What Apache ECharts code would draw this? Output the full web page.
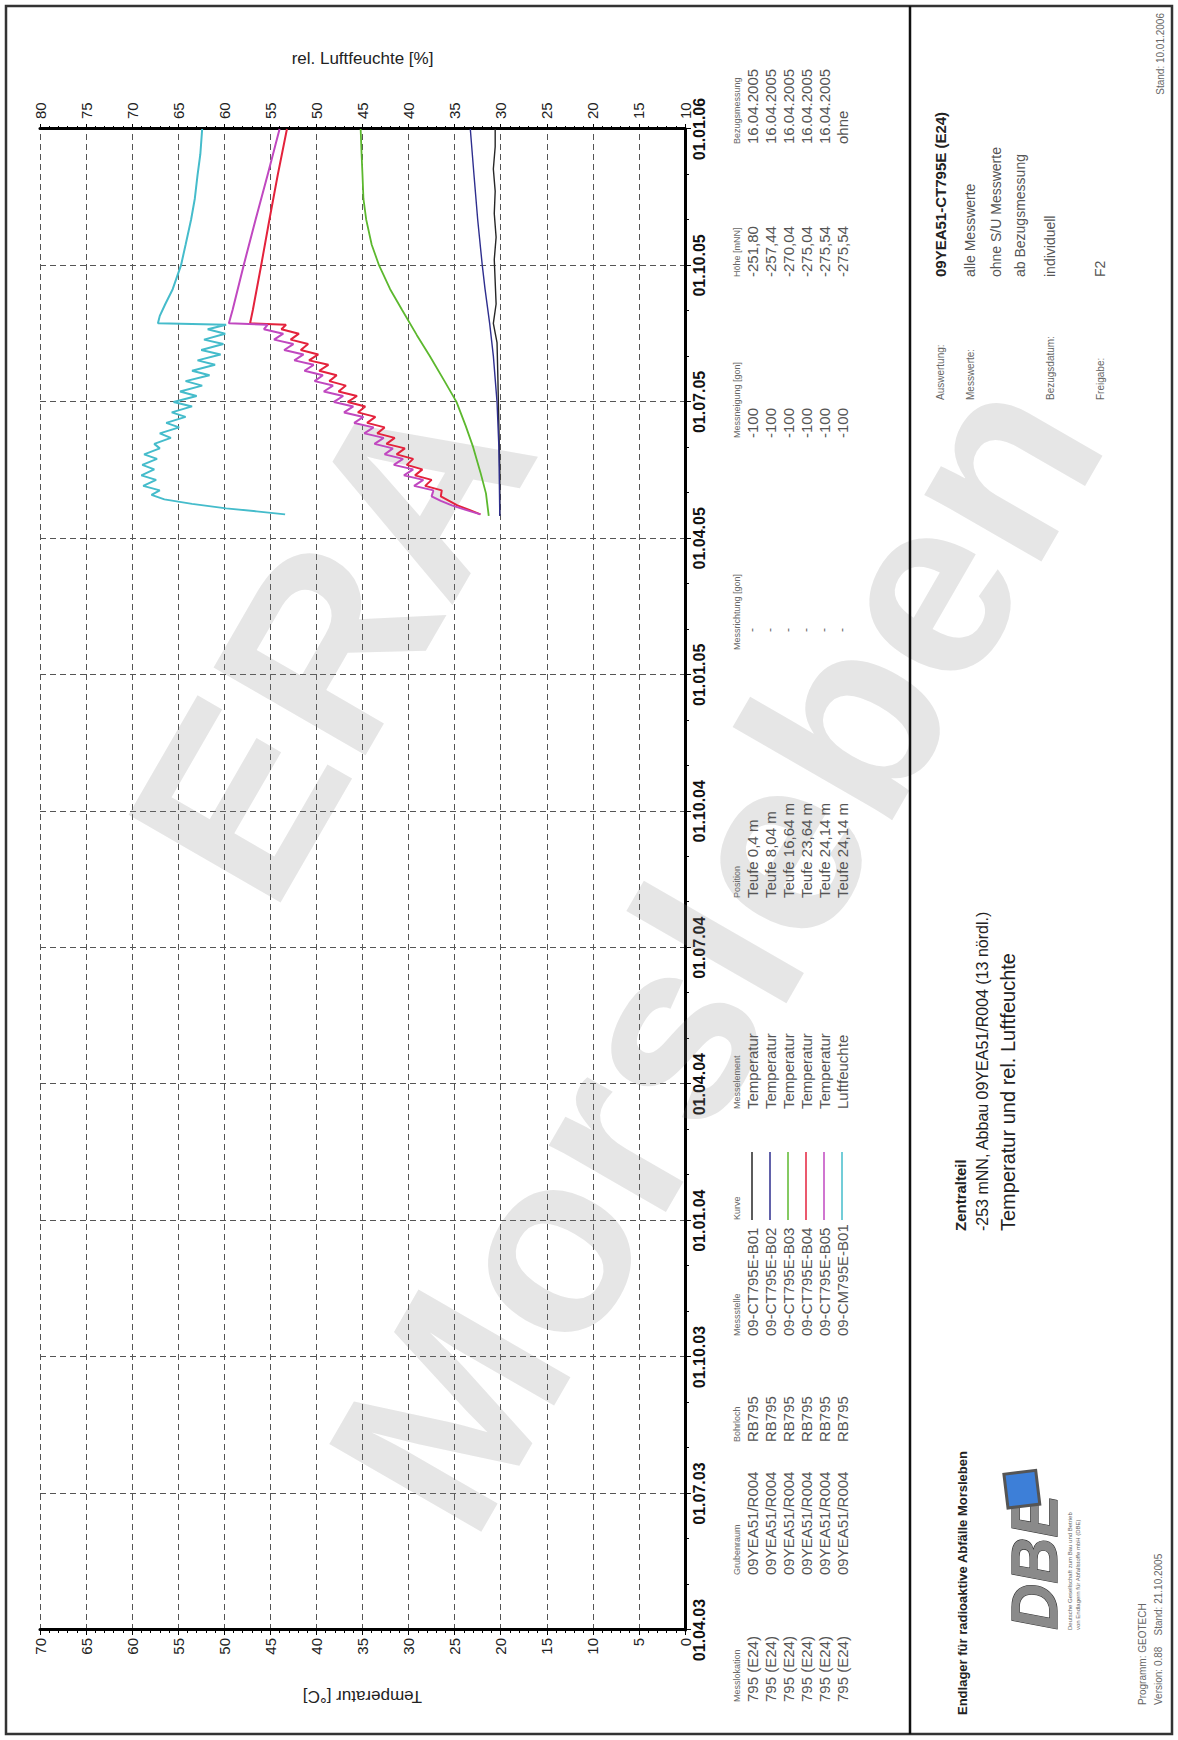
<!DOCTYPE html>
<html><head><meta charset="utf-8">
<script src="https://cdn.jsdelivr.net/npm/echarts@6/dist/echarts.min.js"></script>
<style>
html,body{margin:0;padding:0;background:#fff;width:1178px;height:1740px;overflow:hidden}
#wrap{position:absolute;left:0;top:1740px;width:1740px;height:1178px;transform-origin:0 0;transform:rotate(-90deg)}
#chart{width:1740px;height:1178px}
</style></head><body>
<div id="wrap"><div id="chart"></div></div>
<script>
// ---- tick labels ----
const quarterLabels = ['01.04.03','01.07.03','01.10.03','01.01.04','01.04.04','01.07.04','01.10.04','01.01.05','01.04.05','01.07.05','01.10.05','01.01.06'];

// ---- series data ----
const dB01 = ['2005-04-16','2005-05-15','2005-06-15','2005-07-15','2005-08-10','2005-08-23','2005-09-05','2005-09-20','2005-10-05','2005-10-20','2005-11-05','2005-11-20','2005-12-05','2005-12-20','2006-01-01'];
const tB01 = [20.1,20.1,20.2,20.3,20.4,20.8,20.5,20.6,20.7,20.5,20.7,20.6,20.8,20.6,20.6];

const dB02 = ['2005-04-16','2005-06-01','2005-07-01','2005-08-01','2005-08-23','2005-09-15','2005-10-01','2005-11-01','2005-12-01','2006-01-01'];
const tB02 = [20.1,20.2,20.4,20.8,21.2,21.7,22.0,22.5,22.9,23.3];

const dB03 = ['2005-04-16','2005-05-01','2005-05-15','2005-06-01','2005-06-15','2005-07-01','2005-07-15','2005-08-01','2005-08-15','2005-09-01','2005-09-15','2005-10-01','2005-10-15','2005-11-01','2005-11-15','2005-12-01','2005-12-15','2006-01-01'];
const tB03 = [21.3,21.6,22.2,23.0,23.8,24.8,26.1,27.7,29.1,30.7,32.0,33.2,34.0,34.6,34.9,35.0,35.1,35.2];

const dB45 = ['2005-04-17','2005-04-20','2005-04-23','2005-04-26','2005-04-29','2005-05-03','2005-05-06','2005-05-10','2005-05-13','2005-05-17','2005-05-20','2005-05-24','2005-05-27','2005-05-31','2005-06-03','2005-06-07','2005-06-10','2005-06-14','2005-06-17','2005-06-21','2005-06-24','2005-06-28','2005-07-01','2005-07-05','2005-07-08','2005-07-12','2005-07-15','2005-07-19','2005-07-22','2005-07-26','2005-07-29','2005-08-02','2005-08-05','2005-08-09','2005-08-12','2005-08-16','2005-08-19','2005-08-22','2005-08-23','2005-09-01','2005-10-01','2005-11-01','2005-12-01','2006-01-01'];
const tB04 = [22.2,23.4,24.7,25.6,26.5,26.4,28.2,27.5,29.3,28.5,30.2,29.5,31.3,30.4,32.4,31.5,33.4,32.6,34.5,33.6,35.5,34.7,36.6,35.6,37.6,36.8,38.6,37.8,39.7,38.7,40.8,39.8,41.7,40.9,42.8,41.9,43.8,43.3,47.2,46.9,46.0,45.1,44.2,43.2];
const tB05 = [22.2,23.8,25.3,26.5,27.5,27.3,29.4,28.4,30.5,29.5,31.6,30.6,32.6,31.7,33.7,32.7,34.8,33.8,35.9,34.9,37.0,36.0,38.1,37.1,39.2,38.2,40.2,39.3,41.3,40.3,42.4,41.4,43.5,42.5,44.6,43.6,45.7,45.3,49.5,49.1,47.9,46.6,45.3,44.0];

const dHum = ['2005-04-17','2005-04-19','2005-04-21','2005-04-24','2005-04-27','2005-04-30','2005-05-03','2005-05-06','2005-05-10','2005-05-13','2005-05-17','2005-05-20','2005-05-24','2005-05-27','2005-05-31','2005-06-03','2005-06-07','2005-06-10','2005-06-14','2005-06-17','2005-06-21','2005-06-24','2005-06-28','2005-07-01','2005-07-05','2005-07-08','2005-07-12','2005-07-15','2005-07-19','2005-07-22','2005-07-26','2005-07-29','2005-08-02','2005-08-05','2005-08-09','2005-08-12','2005-08-16','2005-08-19','2005-08-22','2005-08-23','2005-08-28','2005-09-05','2005-09-15','2005-10-01','2005-10-15','2005-11-01','2005-11-15','2005-12-01','2005-12-15','2006-01-01'];
const hCM01 = [53.4,56.5,59.8,63.5,66.5,67.9,67.0,68.8,67.4,69.0,67.6,68.9,67.3,68.7,67.0,67.6,65.8,67.0,64.9,66.3,64.2,65.7,63.5,65.5,63.0,64.8,62.4,64.2,61.6,63.5,61.0,62.9,60.4,62.5,60.1,62.2,59.9,61.8,59.8,67.2,67.0,66.4,65.6,64.7,64.2,63.6,63.2,62.9,62.6,62.4];

// ---- table texts ----
const colMesslokation = ['795 (E24)','795 (E24)','795 (E24)','795 (E24)','795 (E24)','795 (E24)'];
const colGrubenraum = ['09YEA51/R004','09YEA51/R004','09YEA51/R004','09YEA51/R004','09YEA51/R004','09YEA51/R004'];
const colBohrloch = ['RB795','RB795','RB795','RB795','RB795','RB795'];
const colMessstelle = ['09-CT795E-B01','09-CT795E-B02','09-CT795E-B03','09-CT795E-B04','09-CT795E-B05','09-CM795E-B01'];
const colMesselement = ['Temperatur','Temperatur','Temperatur','Temperatur','Temperatur','Luftfeuchte'];
const colPosition = ['Teufe 0,4 m','Teufe 8,04 m','Teufe 16,64 m','Teufe 23,64 m','Teufe 24,14 m','Teufe 24,14 m'];
const colRichtung = ['-','-','-','-','-','-'];
const colNeigung = ['-100','-100','-100','-100','-100','-100'];
const colHoehe = ['-251,80','-257,44','-270,04','-275,04','-275,54','-275,54'];
const colBezug = ['16.04.2005','16.04.2005','16.04.2005','16.04.2005','16.04.2005','ohne'];
const seriesColors = ['#262626','#2e2e8e','#5cb82e','#e4223c','#c048c0','#45bccb'];

// ---- helpers ----
function toQ(s){
  const p = s.split('-').map(Number);
  const y=p[0], m=p[1], d=p[2];
  const qm = Math.floor((m-1)/3)*3;
  const t = Date.UTC(y,m-1,d), q0 = Date.UTC(y,qm,1), q1 = Date.UTC(y,qm+3,1);
  return (y-2003)*4 + qm/3 - 1 + (t-q0)/(q1-q0);
}
function pairs(ds, vs){ return ds.map((d,i)=>[toQ(d), vs[i]]); }

const FF = '"Liberation Sans", Arial, sans-serif';
const G = [];
function T(x,y,text,o){
  o = o||{};
  G.push({type:'text', x:x, y:y, rotation:o.rot||0, z:o.z||10, silent:true,
    style:{text:text, fill:o.fill||'#444', fontSize:o.fs||14, fontWeight:o.fw||'normal', fontStyle:o.fst||'normal',
      fontFamily:o.ff||FF, align:o.align||'left', verticalAlign:o.va||'middle', stroke:o.stroke, lineWidth:o.lw||0}});
}
function L(x1,y1,x2,y2,color,w,z){
  G.push({type:'line', z:z||10, silent:true, shape:{x1:x1,y1:y1,x2:x2,y2:y2}, style:{stroke:color, lineWidth:w||1}});
}

// outer frame + separator
G.push({type:'rect', z:10, silent:true, shape:{x:6,y:6,width:1728,height:1166}, style:{fill:'none', stroke:'#333', lineWidth:2.5}});
L(6,910,1734,910,'#111',2.5);

// table
const rowY = [752,770,788,806,824,842];
const headY = 737;
const cols = [
  [38,'Messlokation',colMesslokation],
  [165,'Grubenraum',colGrubenraum],
  [298,'Bohrloch',colBohrloch],
  [404,'Messstelle',colMessstelle],
  [631,'Messelement',colMesselement],
  [842,'Position',colPosition],
  [1302,'Messneigung [gon]',colNeigung],
  [1463,'Höhe [mNN]',colHoehe],
  [1596,'Bezugsmessung',colBezug]
];
cols.forEach(c=>{
  T(c[0],headY,c[1],{fs:9,fill:'#666'});
  c[2].forEach((t,i)=>T(c[0],rowY[i],t,{fs:15,fill:'#555'}));
});
T(1090,headY,'Messrichtung [gon]',{fs:9,fill:'#666'});
colRichtung.forEach((t,i)=>T(1108,rowY[i],t,{fs:12,fill:'#666'}));
T(520,headY,'Kurve',{fs:9,fill:'#666'});
seriesColors.forEach((c,i)=>L(520,rowY[i],588,rowY[i],c,1.5));

// info panel
T(1463,940,'09YEA51-CT795E (E24)',{fs:15,fw:'bold',fill:'#222'});
T(1340,940,'Auswertung:',{fs:10,fill:'#666'});
T(1340,970,'Messwerte:',{fs:10,fill:'#666'});
T(1340,1050,'Bezugsdatum:',{fs:10,fill:'#666'});
T(1340,1100,'Freigabe:',{fs:10,fill:'#666'});
T(1463,970,'alle Messwerte',{fs:14,fill:'#555'});
T(1463,996,'ohne S/U Messwerte',{fs:14,fill:'#555'});
T(1463,1020,'ab Bezugsmessung',{fs:14,fill:'#555'});
T(1463,1050,'individuell',{fs:14,fill:'#555'});
T(1463,1100,'F2',{fs:14,fill:'#555'});
T(1727,1160,'Stand: 10.01.2006',{fs:10,fill:'#666',align:'right'});

T(25,962,'Endlager für radioaktive Abfälle Morsleben',{fs:13,fw:'bold',fill:'#222'});
T(509,960,'Zentralteil',{fs:15,fw:'bold',fill:'#222'});
T(509,982,'-253 mNN, Abbau 09YEA51/R004 (13 nördl.)',{fs:16,fill:'#222'});
T(509,1008,'Temperatur und rel. Luftfeuchte',{fs:20,fill:'#222'});

// DBE logo (text based)
T(110,1035,'DBE',{fs:64,fw:'bold',fst:'italic',fill:'#8a8a8a',stroke:'#333',lw:1.2});
G.push({type:'rect', z:11, silent:true, rotation:0.12, x:232, y:1008, shape:{x:0,y:0,width:34,height:32}, style:{fill:'#3d7fd8', stroke:'#555', lineWidth:3}});
T(110,1070,'Deutsche Gesellschaft zum Bau und Betrieb',{fs:6,fill:'#666'});
T(110,1078,'von Endlagern für Abfallstoffe mbH (DBE)',{fs:6,fill:'#666'});
T(35,1142,'Programm: GEOTECH',{fs:10,fill:'#666'});
T(35,1158,'Version: 0.88    Stand: 21.10.2005',{fs:10,fill:'#666'});

// watermark
T(1100,330,'ERA',{fs:255,fw:'bold',fill:'rgba(128,128,128,0.2)',align:'center',rot:-Math.PI/6,z:1});
T(790,715,'Morsleben',{fs:255,fw:'bold',fill:'rgba(128,128,128,0.2)',align:'center',rot:-Math.PI/6,z:1});

const grid = {left:110, right:129, top:40, bottom:493, containLabel:false, outerBoundsMode:'none'};
const split = {show:true, lineStyle:{color:'#555', type:[6,4], width:1}};
const thick = {show:true, onZero:false, lineStyle:{color:'#000', width:3}};

const chart = echarts.init(document.getElementById('chart'), null, {renderer:'svg'});
chart.setOption({
  animation:false,
  backgroundColor:'#fff',
  textStyle:{fontFamily:FF},
  grid:grid,
  xAxis:{type:'value', min:0, max:11, interval:1, axisLine:thick,
    axisTick:{show:true, length:6, lineStyle:{color:'#000'}},
    minorTick:{show:true, splitNumber:3, length:4, lineStyle:{color:'#000'}},
    axisLabel:{formatter:v=>quarterLabels[Math.round(v)]||'', fontSize:16, fontWeight:'bold', color:'#111', margin:6, fontFamily:FF},
    splitLine:split},
  yAxis:[
    {type:'value', position:'left', min:0, max:70, interval:5,
     name:'Temperatur [°C]', nameLocation:'middle', nameRotate:90, nameGap:58,
     nameTextStyle:{fontSize:17, color:'#222', fontFamily:FF},
     axisLine:thick, axisTick:{show:true,length:5,lineStyle:{color:'#000'}},
     minorTick:{show:true,splitNumber:5,length:3,lineStyle:{color:'#000'}},
     axisLabel:{fontSize:15, color:'#222', margin:8, fontFamily:FF}, splitLine:split},
    {type:'value', position:'right', min:10, max:80, interval:5,
     name:'rel. Luftfeuchte [%]', nameLocation:'middle', nameRotate:-90, nameGap:62,
     nameTextStyle:{fontSize:17, color:'#222', fontFamily:FF},
     axisLine:thick, axisTick:{show:true,length:5,lineStyle:{color:'#000'}},
     minorTick:{show:true,splitNumber:5,length:3,lineStyle:{color:'#000'}},
     axisLabel:{fontSize:15, color:'#222', margin:10, fontFamily:FF}, splitLine:{show:false}}
  ],
  series:[
    {type:'line', name:'09-CT795E-B01', yAxisIndex:0, data:pairs(dB01,tB01), showSymbol:false, symbol:'none', z:3, lineStyle:{color:seriesColors[0], width:1.4}, itemStyle:{color:seriesColors[0]}},
    {type:'line', name:'09-CT795E-B02', yAxisIndex:0, data:pairs(dB02,tB02), showSymbol:false, symbol:'none', z:3, lineStyle:{color:seriesColors[1], width:1.4}, itemStyle:{color:seriesColors[1]}},
    {type:'line', name:'09-CT795E-B03', yAxisIndex:0, data:pairs(dB03,tB03), showSymbol:false, symbol:'none', z:3, lineStyle:{color:seriesColors[2], width:1.8}, itemStyle:{color:seriesColors[2]}},
    {type:'line', name:'09-CT795E-B04', yAxisIndex:0, data:pairs(dB45,tB04), showSymbol:false, symbol:'none', z:3, lineStyle:{color:seriesColors[3], width:2}, itemStyle:{color:seriesColors[3]}},
    {type:'line', name:'09-CT795E-B05', yAxisIndex:0, data:pairs(dB45,tB05), showSymbol:false, symbol:'none', z:3, lineStyle:{color:seriesColors[4], width:2}, itemStyle:{color:seriesColors[4]}},
    {type:'line', name:'09-CM795E-B01', yAxisIndex:1, data:pairs(dHum,hCM01), showSymbol:false, symbol:'none', z:3, lineStyle:{color:seriesColors[5], width:2}, itemStyle:{color:seriesColors[5]}}
  ],
  graphic:{elements:G}
});
</script></body></html>
